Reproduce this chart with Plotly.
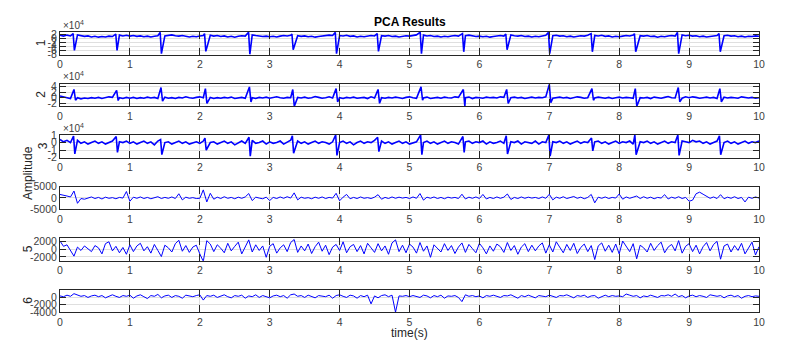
import numpy as np
import plotly.graph_objects as go
from plotly.subplots import make_subplots

# sample step of the hand-read traces (seconds)
STEP = 0.05

beat_times = [0.20, 0.81, 1.445, 2.08, 2.71, 3.33, 3.95, 4.55,
              5.165, 5.77, 6.39, 7.00, 7.61, 8.23, 8.845, 9.44]

# beat peaks / troughs (x1e4) for components 1-3
pc1_up = [2.2, 2.0, 2.8, 2.2, 2.9, 2.0, 2.8, 2.2, 2.9, 2.2, 2.0, 2.8, 2.2, 2.2, 2.8, 2.2]
pc1_down = [-5.9, -5.9, -7.5, -6.4, -7.8, -5.6, -7.5, -6.4, -7.5, -6.6, -5.6, -7.5, -6.6, -6.6, -7.5, -6.6]
pc2_up = [2.9, 2.6, 3.6, 3.2, 3.8, 2.9, 3.2, 2.9, 3.8, 2.9, 2.9, 4.7, 3.2, 3.2, 3.6, 3.2]
pc2_down = [-0.9, -1.0, -1.2, -2.0, -1.5, -3.0, -1.5, -2.0, -0.9, -3.0, -2.0, -1.8, -0.9, -3.0, -1.5, -1.5]
pc3_up = [0.87, 0.8, 0.4, 0.6, 0.7, 0.9, 1.0, 0.7, 1.0, 0.8, 0.9, 1.0, 0.6, 1.0, 1.0, 0.9]
pc3_down = [-1.5, -1.3, -1.6, -1.0, -1.8, -1.4, -1.7, -1.2, -1.6, -1.3, -1.5, -1.8, -1.1, -1.6, -1.7, -1.6]

# baseline between beats (x1e4), one value every STEP seconds
pc1_base = [1.4, 1.0, 1.5, 1.1, 1.3, 1.6, 1.2, 0.9, 1.1, 0.6, 0.9, 0.5, 0.8, 0.6, 1.0, 0.8, 1.2, 1.5, 1.1, 1.4,
            1.0, 1.3, 0.9, 1.1, 0.7, 1.0, 0.6, 0.9, 1.2, 1.5, 1.1, 1.4, 1.6, 1.2, 1.0, 1.3, 0.8, 0.6, 0.9, 0.7,
            1.1, 1.3, 1.6, 1.4, 1.0, 1.3, 0.8, 1.1, 0.6, 0.9, 0.5, 0.9, 1.2, 1.0, 1.4, 1.6, 1.3, 1.1, 0.8, 1.0,
            0.7, 0.9, 0.6, 1.0, 1.3, 1.1, 1.4, 1.6, 1.2, 0.9, 1.1, 0.7, 0.9, 0.5, 0.8, 1.0, 1.2, 1.5, 1.3, 1.6,
            1.3, 1.1, 1.4, 0.9, 1.1, 0.6, 0.9, 0.7, 1.0, 1.3, 1.1, 1.5, 1.2, 1.0, 1.3, 0.8, 1.0, 0.6, 0.9, 1.2,
            1.0, 1.4, 1.6, 1.2, 1.5, 1.1, 1.3, 0.8, 1.0, 0.6, 0.9, 0.7, 1.1, 1.3, 1.0, 1.6, 1.2, 1.5, 1.1, 0.8,
            1.0, 0.7, 0.9, 0.5, 0.8, 1.1, 1.3, 1.0, 1.4, 1.6, 1.2, 1.0, 1.3, 0.8, 1.0, 0.6, 0.9, 0.7, 1.1, 1.4,
            1.6, 1.2, 1.4, 1.0, 1.2, 0.7, 1.0, 0.6, 0.9, 1.2, 1.0, 1.4, 1.6, 1.3, 1.1, 1.4, 0.9, 1.1, 0.6, 0.9,
            0.7, 1.0, 1.3, 1.1, 1.5, 1.6, 1.2, 1.0, 1.3, 0.8, 1.0, 0.5, 0.9, 0.7, 1.1, 1.3, 1.0, 1.5, 1.6, 1.2,
            1.4, 1.0, 1.2, 0.7, 1.0, 0.6, 0.9, 1.1, 1.3, 1.6, 1.2, 1.4, 1.0, 1.2, 0.7, 1.0, 0.6, 0.9, 0.8, 1.1, 0.9]
pc2_base = [0.6, 0.2, 0.0, -0.3, 0.1, 0.0, -0.4, -0.1, -0.3, 0.0, -0.2, 0.1, -0.3, 0.0, 0.3, 0.1, -0.2, 0.0, -0.3, 0.1,
            -0.2, 0.1, -0.3, 0.0, -0.2, 0.2, -0.1, 0.1, -0.3, 0.0, 0.2, -0.2, 0.0, -0.3, 0.1, -0.1, 0.3, 0.0, -0.2, 0.1,
            0.3, 0.0, -0.2, 0.1, -0.3, 0.0, -0.2, 0.1, -0.1, 0.2, -0.3, 0.0, 0.1, -0.2, 0.2, 0.0, -0.3, 0.1, -0.1, 0.2,
            -0.2, 0.1, 0.3, 0.0, -0.2, 0.1, 0.0, -0.3, 0.1, -0.1, 0.2, -0.2, 0.0, 0.4, 0.1, -0.2, 0.0, 0.3, -0.1, 0.2,
            0.0, -0.3, 0.1, -0.1, 0.2, -0.2, 0.0, 0.1, -0.3, 0.3, -0.1, 0.2, 0.0, -0.2, 0.1, -0.1, 0.2, 0.0, -0.3, 0.1,
            0.3, 0.0, -0.2, 0.1, -0.1, 0.2, -0.3, 0.0, 0.1, -0.2, 0.2, 0.0, -0.1, 0.3, 0.1, -0.2, 0.0, 0.2, -0.3, 0.1,
            0.0, -0.2, 0.2, 0.0, 0.1, -0.1, 0.3, 0.1, -0.2, 0.0, 0.2, -0.1, 0.1, -0.3, 0.0, 0.2, -0.1, 0.1, 0.0, 0.3,
            0.1, -0.2, 0.0, 0.2, -0.1, 0.1, -0.3, 0.0, 0.3, 0.1, -0.2, 0.0, 0.1, -0.1, 0.2, 0.0, -0.2, 0.1, -0.3, 0.0,
            0.2, -0.1, 0.1, 0.0, -0.2, 0.3, 0.0, -0.1, 0.1, -0.3, 0.2, 0.0, -0.2, 0.1, 0.4, 0.0, -0.1, 0.2, -0.2, 0.3,
            0.0, 0.3, 0.1, -0.2, 0.0, 0.2, -0.1, 0.1, -0.3, 0.0, 0.2, -0.1, 0.1, 0.0, -0.2, 0.3, 0.0, -0.1, 0.1, -0.2, 0.0]
pc3_base = [0.4, 0.1, 0.3, 0.0, 0.2, 0.3, -0.1, 0.1, -0.2, 0.0, 0.2, -0.1, 0.1, -0.2, 0.0, 0.2, -0.1, 0.1, 0.0, 0.2,
            -0.1, 0.1, -0.2, 0.0, 0.2, -0.1, 0.1, -0.3, 0.2, 0.3, 0.0, 0.1, -0.2, 0.0, 0.2, -0.1, 0.1, -0.2, 0.0, 0.1,
            -0.1, 0.2, 0.3, 0.0, 0.1, -0.2, 0.0, 0.2, -0.1, 0.1, -0.3, 0.0, 0.2, -0.1, 0.1, 0.3, -0.1, 0.0, 0.2, -0.2,
            0.1, -0.1, 0.0, 0.2, -0.2, 0.1, 0.3, 0.0, 0.2, -0.1, 0.1, -0.2, 0.0, 0.2, -0.1, 0.1, 0.0, -0.2, 0.1, 0.3,
            0.0, 0.2, -0.1, 0.1, -0.3, 0.0, 0.2, -0.1, 0.1, 0.0, 0.3, 0.0, 0.2, -0.1, 0.1, -0.2, 0.0, 0.2, -0.1, 0.1,
            -0.2, 0.0, 0.1, 0.3, 0.0, 0.2, -0.1, 0.1, -0.2, 0.0, 0.2, -0.1, 0.1, 0.0, -0.2, 0.3, 0.1, 0.2, -0.1, 0.1,
            0.0, 0.2, -0.2, 0.1, -0.1, 0.0, 0.2, -0.1, 0.3, 0.1, 0.0, 0.2, -0.2, 0.1, 0.0, -0.1, 0.2, -0.2, 0.1, 0.0,
            0.3, 0.1, 0.0, 0.2, -0.1, 0.1, -0.2, 0.0, 0.2, -0.1, 0.1, 0.0, -0.3, 0.1, 0.2, -0.1, 0.1, -0.2, 0.0, 0.2,
            -0.1, 0.1, 0.0, 0.2, -0.2, 0.3, 0.1, 0.0, 0.2, -0.1, 0.1, -0.2, 0.0, 0.2, -0.1, 0.1, 0.0, -0.2, 0.2, 0.1,
            0.0, 0.3, 0.1, 0.2, -0.1, 0.1, -0.2, 0.0, 0.2, 0.1, 0.0, 0.2, -0.1, 0.1, -0.2, 0.0, 0.2, -0.1, 0.1, 0.0, 0.2]

# components 4-6 (raw units), one value every STEP seconds
pc4 = [1500, 1000, 800, 400, 3000, -2400, -300, -600, -200, 400, -300, 200, -500, 300, -200, 100, -400, 200, -100, 2800,
       -1500, 300, -200, 400, -300, 200, -400, 100, 500, -300, 200, -200, 400, -300, 1800, -900, 300, -200, 100, -300,
       -200, 3500, -1800, 2000, -600, 300, -300, 500, -200, 200, -400, 300, -200, 400, 1900, -1200, 300, -100, -400, 300,
       -1200, 200, -300, 400, -200, 500, -100, 2200, -900, 300, -200, 100, -400, 300, -200, 400, -300, 200, -100, 2000,
       -1300, 300, 1500, -400, 200, -300, 400, -200, 100, -300, 300, 1400, -600, 200, -300, 400, -200, 300, -100, 200,
       -300, 400, -200, 1900, -1000, 300, -200, 400, -300, 200, -400, 300, -100, 200, -300, 1600, -500, 300, -200, 400,
       -300, 1500, -500, 200, -300, 400, -200, 300, 1700, -700, 200, -300, 400, -200, 300, -100, 200, -300, 400, -200,
       1600, -900, 300, -200, 500, -300, 200, 600, -200, 300, -400, 200, 1500, -2200, 300, -200, 400, -300, 200, -100,
       1700, -600, 400, -200, 300, 800, -300, 500, -200, 300, -400, 200, -100, 1400, -500, 300, -200, 500, -300, 200,
       -1500, -1000, 1800, 2500, 1600, 800, -200, 400, -300, 1400, -400, 300, -200, 500, -300, 200, -1800, 300, -200, 400, -100]
pc5 = [2200, 800, 1200, -500, -1800, 600, -300, 900, 200, -600, 1000, 400, -1200, 1500, 2000, -400, 800, -900, 500, -1300,
       1200, -600, 900, 1600, -400, 700, -1000, 1300, -300, -1900, 1100, 400, -700, 1500, 2400, -500, 1000, -800, 600, 1100,
       -1200, -3200, 2300, 1400, -600, 1200, 300, -900, 1600, -400, 800, 1900, -1200, 600, 2500, -700, 1200, -300, 900, -2100,
       800, 1500, -1000, 400, 1200, -600, 1800, 2600, -800, 900, -400, 1400, -1100, 700, 1900, -500, 1100, -1400, 600, 1300,
       -300, 2000, -900, 700, 1300, -600, 1000, -1200, 1600, 400, -800, 1500, -400, 900, -1300, 1700, 2500, -600, 1100, -900,
       1400, 600, -1000, 1800, -500, 900, -2100, 1200, 300, -700, 1500, -300, 1000, -1100, 600, 1700, -800, 1300, 200, -900,
       1600, 400, -1200, 900, -500, 1400, 700, -800, 1800, -300, 1000, -1300, 600, 1500, -600, 1100, -400, 900, 1700, -1000,
       1200, -700, 2000, 600, -900, 1300, -300, 1600, -1100, 500, 1400, -600, 1000, -2700, 900, 1700, -500, 1100, -800, 1400,
       -1200, 2200, 800, -600, 1500, -2500, 1100, 400, -700, 1600, -300, 1000, 1900, -900, 600, 1300, -400, 2300, -1000, 800,
       1500, -600, 1100, -1200, 700, 1800, -400, 1300, 2100, -2600, 900, 1400, -700, 1000, -300, 1600, -1200, 500, 1900, -1500, 700]
pc6 = [300, 100, 500, 200, 900, 600, 200, 400, -100, 300, 500, 100, 400, -200, 300, 600, 200, -100, 400, 200,
       500, -300, 300, 600, 100, -400, 400, 200, 700, -200, 300, 500, -100, 400, 200, -300, 500, 300, 100, 400,
       600, -800, 400, 200, 500, -100, 300, 600, 100, -200, 400, 200, 500, -300, 300, 100, 600, -100, 400, 200,
       -200, 300, 500, 100, 400, -300, 600, 800, 200, 400, -100, 500, 200, -200, 400, 300, 100, 500, -300, 400,
       600, 200, -100, 500, 300, -300, 400, 100, 500, -1800, 300, -200, 400, 600, 100, 500, -4000, 300, 200, 400,
       100, 400, 200, -100, 500, 300, -200, 400, 100, 500, -300, 300, 200, 400, -100, -1200, 600, 200, 400, 100,
       300, -200, 400, 200, 500, 100, -100, 400, 300, 600, 200, -300, 400, 100, 500, 200, -200, 400, 300, 100,
       500, 200, -100, 400, 300, 600, 100, -200, 400, 200, 500, -100, 300, 400, -300, 200, 500, 100, 400, 200,
       300, 100, 800, 500, 200, 400, -200, 300, 100, 500, 200, -100, 400, 300, 600, 200, 800, 100, 400, -200,
       300, 500, 100, 400, 200, -100, 600, 300, 200, 400, -200, 300, 500, 100, 400, -300, 200, 400, 100, 300, 200]

x_ticks = list(range(11))
y_ranges = [[-8e4, 3e4], [-3e4, 5e4], [-2e4, 1e4], [-5000, 5000], [-3000, 3000], [-4000, 2000]]
y_tickvals = [[-8e4, -6e4, -4e4, -2e4, 0, 2e4], [-2e4, 0, 2e4, 4e4], [-2e4, -1e4, 0, 1e4],
              [-5000, 0, 5000], [-2000, 0, 2000], [-4000, -2000, 0]]
y_ticktext = [["-8", "-6", "-4", "-2", "0", "2"], ["-2", "0", "2", "4"], ["-2", "-1", "0", "1"],
              ["-5000", "0", "5000"], ["-2000", "0", "2000"], ["-4000", "-2000", "0"]]
y_labels = ["1", "2", "3", "", "5", "6"]


def with_beats(base, ups, downs, off_up, off_down):
    """Baseline samples plus the read beat extremes, ordered in time."""
    t = np.round(np.arange(len(base)) * STEP, 3)
    keep = [i for i in range(len(base)) if min(abs(t[i] - b) for b in beat_times) > 0.028]
    xs = [t[i] for i in keep]
    ys = [base[i] for i in keep]
    for b, u, d in zip(beat_times, ups, downs):
        xs += [b + off_up, b + off_down]
        ys += [u, d]
    order = np.argsort(xs)
    return np.array(xs)[order], np.array(ys)[order] * 1e4


series = [
    with_beats(pc1_base, pc1_up, pc1_down, -0.012, 0.006),
    with_beats(pc2_base, pc2_up, pc2_down, 0.0, 0.022),
    with_beats(pc3_base, pc3_up, pc3_down, -0.006, 0.012),
]
for vals in (pc4, pc5, pc6):
    series.append((np.round(np.arange(len(vals)) * STEP, 3), np.array(vals)))

# page is 801x356; the html body adds an 8px margin round the figure
PAGE_W, PAGE_H, PAD = 801, 356, 8
W, H = PAGE_W - 2 * PAD, PAGE_H - 2 * PAD
LEFT, RIGHT = 60, 759                      # plot box, page pixels
BOX_TOPS = [32, 83.5, 135, 186.5, 238, 289.5]
BOX_H = 22.7
AX = "#262626"
TICK = "#404040"
FONT = "Liberation Sans, Arial, Helvetica, sans-serif"


def px_x(p):
    return (p - LEFT) / (RIGHT - LEFT)


def px_y(p):
    return 1 - (p - PAD) / H


fig = make_subplots(rows=6, cols=1)

for k, (x, y) in enumerate(series):
    fig.add_trace(go.Scatter(x=x, y=y, mode="lines",
                             line=dict(color="#0000ff", width=1.6 if k < 3 else 1.0),
                             showlegend=False, hoverinfo="skip"),
                  row=k + 1, col=1)
    top = BOX_TOPS[k]
    fig.update_yaxes(domain=[px_y(top + BOX_H), px_y(top)], range=y_ranges[k],
                     tickmode="array", tickvals=y_tickvals[k], ticktext=y_ticktext[k],
                     row=k + 1, col=1)
    fig.update_xaxes(range=[0, 10], tickmode="array", tickvals=x_ticks, row=k + 1, col=1)

fig.update_xaxes(showline=True, mirror="allticks", linecolor=AX, linewidth=1,
                 ticks="inside", ticklen=7, tickcolor=AX, tickwidth=1,
                 showgrid=True, gridcolor="#dfdfdf", gridwidth=1, zeroline=False,
                 tickfont=dict(family=FONT, size=10.5, color=TICK), automargin=False)
fig.update_yaxes(showline=True, mirror="allticks", linecolor=AX, linewidth=1,
                 ticks="inside", ticklen=6, tickcolor=AX, tickwidth=1,
                 showgrid=True, gridcolor="#dfdfdf", gridwidth=1, zeroline=False,
                 tickfont=dict(family=FONT, size=10.5, color=TICK), automargin=False)

notes = []
# component labels
label_x = [41, 41, 43, 0, 28, 28]
for k, lab in enumerate(y_labels):
    if not lab:
        continue
    notes.append(dict(text=lab, x=px_x(label_x[k]), y=px_y(BOX_TOPS[k] + BOX_H / 2),
                      textangle=-90, font=dict(size=12)))
# exponent markers
for k in range(3):
    notes.append(dict(text="\u00d710<sup>4</sup>", x=px_x(61), y=px_y(BOX_TOPS[k] - 7),
                      xanchor="left", font=dict(size=10, color=TICK)))
notes.append(dict(text="<b>PCA Results</b>", x=0.5, y=px_y(22), font=dict(size=12, color="#000000")))
notes.append(dict(text="time(s)", x=0.5, y=px_y(333), font=dict(size=12)))
notes.append(dict(text="Amplitude", x=px_x(28), y=px_y(173), textangle=-90, font=dict(size=12)))

for n in notes:
    n.setdefault("xanchor", "center")
    n.update(xref="paper", yref="paper", yanchor="middle", showarrow=False)
    n["font"] = dict(family=FONT, color=n["font"].get("color", AX), size=n["font"]["size"])

fig.update_layout(
    width=W, height=H,
    margin=dict(l=LEFT - PAD, r=W - (RIGHT - PAD), t=0, b=0),
    paper_bgcolor="white", plot_bgcolor="white",
    font=dict(family=FONT, color=AX),
    annotations=notes,
)

fig.write_html("out.html")
